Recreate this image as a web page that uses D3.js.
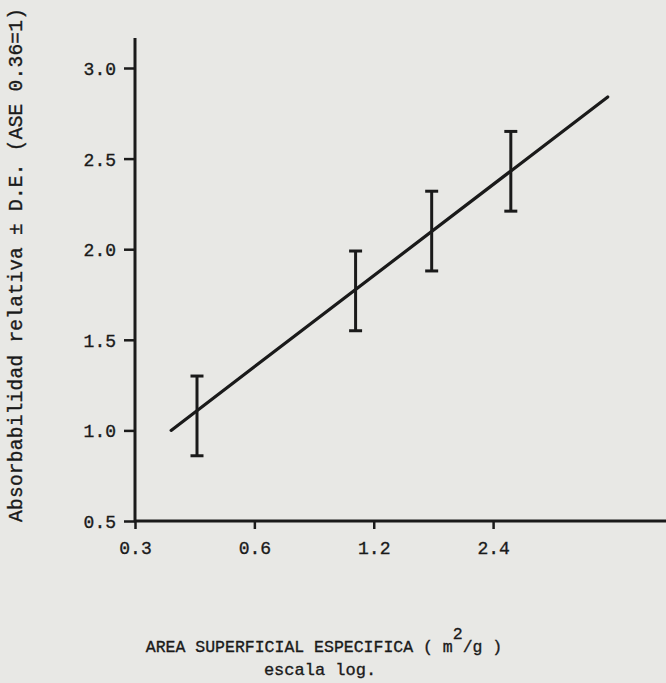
<!DOCTYPE html>
<html>
<head>
<meta charset="utf-8">
<script src="https://cdn.jsdelivr.net/npm/d3@7"></script>
<style>
  html, body { margin: 0; padding: 0; background: #e8e8e5; }
  svg { display: block; }
  text { font-family: "Liberation Mono", "DejaVu Sans Mono", monospace; fill: #1a1a1a; stroke: #1a1a1a; stroke-width: 0.35px; }
</style>
</head>
<body>
<svg id="chart" width="666" height="683"></svg>
<script>
// Tick values on both axes
const xTicks = [0.3, 0.6, 1.2, 2.4];
const yTicks = [0.5, 1.0, 1.5, 2.0, 2.5, 3.0];

// Measured points: specific surface area (m2/g), relative absorbability, standard deviation
const area = [0.43, 1.08, 1.68, 2.66];
const absorb = [1.08, 1.77, 2.10, 2.43];
const sd = [0.22, 0.22, 0.22, 0.22];

// Fitted line endpoints (log-x)
const fitArea = [0.37, 4.67];
const fitAbsorb = [1.0, 2.84];

const ink = "#1a1a1a";
const svg = d3.select("#chart");

const x = d3.scaleLog().domain([0.3, 6.55]).range([135, 666]);
const y = d3.scaleLinear().domain([0.5, 3.0]).range([521, 68]);
const fmt = d3.format(".1f");

// y axis
const gy = svg.append("g")
  .attr("transform", `translate(${x(0.3)},0)`)
  .call(d3.axisLeft(y).tickValues(yTicks).tickFormat(fmt).tickSize(11).tickPadding(8));
gy.select(".domain").remove();
gy.selectAll("line").attr("stroke", ink).attr("stroke-width", 2.5);
gy.selectAll("text").attr("font-size", 18).attr("dy", "0.36em");

// x axis
const gx = svg.append("g")
  .attr("transform", `translate(0,${y(0.5)})`)
  .call(d3.axisBottom(x).tickValues(xTicks).tickFormat(fmt).tickSize(8).tickPadding(12));
gx.select(".domain").remove();
gx.selectAll("line").attr("stroke", ink).attr("stroke-width", 2.5);
gx.selectAll("text").attr("font-size", 18);

// axis lines
svg.append("line")
  .attr("x1", x(0.3)).attr("x2", x(0.3))
  .attr("y1", y(0.5) + 1).attr("y2", y(3.166))
  .attr("stroke", ink).attr("stroke-width", 3);
svg.append("line")
  .attr("x1", x(0.3) - 1).attr("x2", x.range()[1])
  .attr("y1", y(0.5)).attr("y2", y(0.5))
  .attr("stroke", ink).attr("stroke-width", 3);

// fitted line
const fit = fitArea.map((a, i) => [a, fitAbsorb[i]]);
svg.append("path")
  .datum(fit)
  .attr("d", d3.line().x(d => x(d[0])).y(d => y(d[1])))
  .attr("fill", "none")
  .attr("stroke", ink)
  .attr("stroke-width", 3.2)
  .attr("stroke-linecap", "round");

// error bars (mean ± SD)
const pts = area.map((a, i) => ({ a, m: absorb[i], s: sd[i] }));
const bars = svg.append("g").attr("stroke", ink).attr("stroke-width", 3);
const capW = 6.5;
pts.forEach(d => {
  const cx = x(d.a);
  bars.append("line").attr("x1", cx).attr("x2", cx)
    .attr("y1", y(d.m + d.s)).attr("y2", y(d.m - d.s));
  bars.append("line").attr("x1", cx - capW).attr("x2", cx + capW)
    .attr("y1", y(d.m + d.s)).attr("y2", y(d.m + d.s));
  bars.append("line").attr("x1", cx - capW).attr("x2", cx + capW)
    .attr("y1", y(d.m - d.s)).attr("y2", y(d.m - d.s));
});

// axis titles
const xt = svg.append("text")
  .attr("x", 324).attr("y", 652)
  .attr("text-anchor", "middle")
  .attr("font-size", 16.5);
xt.append("tspan").text("AREA SUPERFICIAL ESPECIFICA ( m");
xt.append("tspan").attr("dy", -13).text("2");
xt.append("tspan").attr("dy", 13).text("/g )");

svg.append("text")
  .attr("x", 320).attr("y", 675)
  .attr("text-anchor", "middle")
  .attr("font-size", 17)
  .text("escala log.");

svg.append("text")
  .attr("transform", "translate(22,265) rotate(-90)")
  .attr("text-anchor", "middle")
  .attr("font-size", 19.5)
  .attr("textLength", 514)
  .attr("lengthAdjust", "spacing")
  .text("Absorbabilidad relativa \u00B1 D.E. (ASE 0.36=1)");
</script>
</body>
</html>
